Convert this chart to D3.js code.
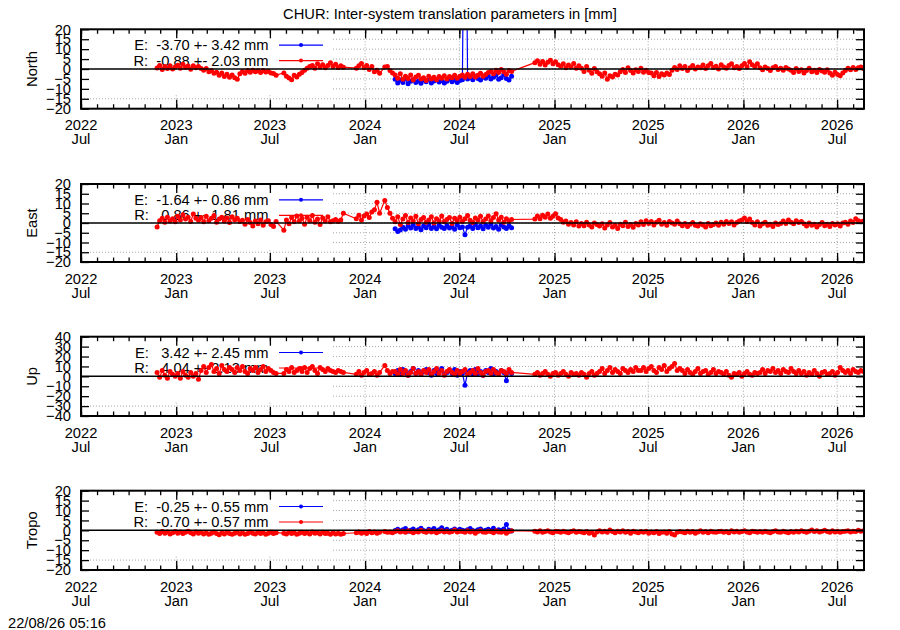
<!DOCTYPE html>
<html>
<head>
<meta charset="utf-8">
<script src="https://cdn.jsdelivr.net/npm/d3@7/dist/d3.min.js"></script>
<style>
    body { margin: 0; background: #fff; }
    svg { font-family: "Liberation Sans", Arial, sans-serif; }
</style>
</head>
<body>
<div id="chart"></div>
<script>
// ---- data (one value per 5 days, null = no solution) ----
const title = "CHUR: Inter-system translation parameters in [mm]";
const stamp = "22/08/26 05:16";
const panelNames = ["North", "East", "Up", "Tropo"];
const yLimits = [20, 20, 40, 20];
const yStepSizes = [5, 5, 10, 5];
const legendE = ["E:  -3.70 +- 3.42 mm", "E:  -1.64 +- 0.86 mm", "E:   3.42 +- 2.45 mm", "E:  -0.25 +- 0.55 mm"];
const legendR = ["R:  -0.88 +- 2.03 mm", "R:   0.86 +- 1.81 mm", "R:   4.04 +- 2.13 mm", "R:  -0.70 +- 0.57 mm"];
const yearLabels = ["2022", "2023", "2023", "2024", "2024", "2025", "2025", "2026", "2026"];
const monthLabels = ["Jul", "Jan", "Jul", "Jan", "Jul", "Jan", "Jul", "Jan", "Jul"];

const axisStart = "2022-07-01";
const axisEnd = "2026-08-22";
const rStart = "2022-11-25";
const eStart = "2024-02-28";
const stepDays = 5;

const northR = [
    0.5, 1.8, -0.3, 1.2, 0.2, 1.6, 0.0, 1.0,
    1.9, 0.4, 2.4, 0.8, 1.5, -0.1, 1.7, 0.6, 1.2,
    0.3, -0.6, 0.2, -1.4, -0.8, -2.1,
    -1.6, -3.2, -2.0, -3.8, -2.6, -4.1, -3.0, -4.4, -5.2,
    -2.4, -1.3, -2.2, -0.8, -1.6, -0.6, -1.4, -0.9, -1.8, -0.7, -1.5, -1.1, -2.0,
    -2.3, -3.1, null, null,
    -2.0, -3.6, -4.5, -5.4, -3.2, -4.0, -2.6,
    -1.8, -0.6, 0.4, 1.2,
    1.8, 0.4, 2.6, 1.0, 2.2, 0.6, 1.8, 3.2, 1.2, 2.4, 0.8, 1.6, 0.9,
    null, null, null, null,
    0.4, 1.6, 2.8, 0.6, 1.8, -0.2, 1.2, -1.4, -0.6, -2.2,
    null, 1.0, 1.3, -0.8, -2.0,
    -3.0, -4.6, -2.4, -5.2, -3.6, -4.8, -3.0, -5.6, -4.0, -3.2, -5.0,
    -4.4, -5.8, -3.6, -5.0, -4.2, -5.4, -3.8, -4.6, -3.4, -5.0, -3.8, -4.4, -3.2, -4.6, -3.6,
    -3.0, -4.2, -2.6, -3.8, -2.4, -4.0, -3.2, -2.2, -3.6, -2.8, -1.8,
    -1.2, -2.4, -0.6, -1.8, -0.2, -1.4, -2.6, -0.8, -1.2,
    null, null, null, null, null, null, null, null,
    3.2, 4.2, 2.4, 3.8, 2.0, 3.4, 4.4, 2.6, 3.6, 2.2,
    1.4, 2.6, 0.6, 2.0, 1.0, 2.8, 0.4, 1.6,
    0.4, -1.2, 1.2, -0.6, -2.2, 0.2, -1.4,
    -2.4, -3.6, -2.0, -5.2, -3.4, -4.0, -2.6, -3.0,
    -1.4, -0.2, -1.8, 0.6, -0.8, -2.0, -0.4, -1.2, 0.4, -1.6, -0.6, -1.8,
    -2.0, -3.4, -1.8, -3.8, -2.4, -3.0, -2.0, -2.8,
    -0.6, 0.8, -0.2, 1.6, 0.2, 1.2, -0.8, 0.6, 1.8, 0.0, 1.0,
    0.6, 2.0, 0.2, 1.6, 2.8, 0.8, 1.4, 0.0, 2.2, 1.0, 0.4, 1.8, 2.6, 0.6, 1.2, 0.2,
    1.6, 2.8, 1.0, 3.6, 2.2, 1.2, 2.6,
    0.6, -0.4, 1.0, 0.2, -0.8, 0.6, 1.2, -0.2, 0.4, -0.6, 0.8, 0.0,
    -0.6, -1.8, 0.2, -1.2, -0.4, -2.0, -0.8, 0.4, -1.4, -0.6, -1.8, -0.2, -1.0, -1.6, -0.4,
    -2.0, -3.2, -1.6, -2.8, -3.4, -2.0,
    -0.8, 0.4, -0.4, 0.8, -0.2, 0.6, 1.0, 0.2
];
const northE = [
    -5.2, -7.0, -5.6, -6.8, -5.0, -7.4, -6.2, -5.4, -6.8, -6.0,
    -7.2, -5.6, -6.4, -5.2, -7.0, -6.0, -5.4, -6.6, -5.8, -7.0,
    -6.2, -5.0, -6.4, -5.6, -6.8, -5.8, -5.4, 150, -5.0, -4.2,
    -5.4, -3.6, -4.8, -5.6, -4.0, -4.6, -3.4, -5.0, -4.2, -3.0,
    -5.2, -4.4, -2.8, -4.8, -5.6, -3.6
];

const eastR = [
    -2.0, 1.2, 2.4, 0.4, 3.0, 1.0, 2.2, 0.6,
    3.4, 1.6, 4.2, 2.0, 3.0, 0.8, 4.6, 2.4, 1.4,
    2.8, 0.6, 3.4, 1.2, 2.4, 3.8, 0.4, 2.0, 3.0, 1.0, 2.6, 0.2, 3.2, 1.6, 2.4, 0.8,
    1.4, -0.6, 1.8, 0.2, -1.6, 1.0, -0.4, 1.6, -1.2, 0.6, 1.2, -0.8,
    -1.8, 0.8, null, null,
    -3.7, 1.6, -0.4, 2.8, 0.6, 3.6, 1.0,
    2.4, -0.6, 3.0, 1.2, 3.8, 0.4, 2.0, -0.8, 2.6, 1.0, 3.2, 0.6,
    1.2, 1.8, 0.8, 1.6, 5.0,
    null, null, null, null,
    2.2, 4.0, 1.6, 3.6, 4.6, 2.8, 5.6, 6.8, 10.6, 5.0,
    null, 11.6, 8.0, 5.0, 2.4,
    0.6, 3.2, -0.8, 2.0, 3.8, 0.2, 2.6, 1.0, 3.4, -0.4, 1.8,
    2.8, 0.4, 1.6, 3.2, 0.0, 2.2, 1.0, 3.6, 0.6, 1.8, 2.8, -0.2, 2.4, 1.2, 3.0,
    0.8, 2.2, 3.8, 1.4, 0.2, 2.6, 1.6, 3.4, 0.6, 2.0, 3.6,
    1.2, 2.8, 4.8, 1.6, 3.0, 0.4, 2.2, 1.0, 1.8,
    null, null, null, null, null, null, null, null,
    2.0, 3.6, 2.2, 4.0, 3.0, 4.6, 2.4, 3.4, 4.8, 2.6,
    1.8, 0.4, 1.0, -0.6, 0.2, -1.0, 0.6, -1.6,
    -0.2, -1.4, 0.4, -1.0, -2.0, 0.0, -0.8,
    -1.6, -0.4, -2.6, -1.0, 0.2, -2.0, -1.2, -2.8, -0.6, -1.4, 0.4, -1.8, -0.8, -2.2, -0.2, -1.0,
    0.6, -0.8, 1.2, -0.2, 0.8, -1.0, 0.4, 1.4, -0.6, 0.2, -1.2, 0.8, 0.0, -0.6, 1.0, -0.4,
    -1.4, -0.2, -1.8, -0.6, 0.2, -1.2, -1.6, -0.4, -1.0, -2.0, -0.2, -1.4, -0.8, 0.0, -1.2,
    0.4, -0.6, 0.8, -0.2, 0.6, -1.0, 0.2, 1.0,
    1.6, 2.6, 0.8, 2.0,
    0.2, -1.0, 0.6, -1.6, -0.4, 0.4, -1.2, -0.6, -1.8, 0.0, -0.8, -0.2,
    1.0, -0.2, 1.6, 0.4, -0.4, 1.2, 0.2, 0.8,
    -0.4, -1.6, 0.0, -1.2, -0.6, -2.0, -0.8, 0.2, -1.4, -0.6, -1.8, -0.2, -1.0, -0.4, -1.6, 0.0,
    0.4, -0.6, 1.0, 0.2, 2.2, 1.2, 0.6, 1.0
];
const eastE = [
    -3.0, -4.4, -3.6, -2.2, -3.2, -1.4, -2.6, -1.0, -2.8, -2.0,
    -3.4, -1.6, -2.4, -0.8, -2.8, -1.8, -3.0, -1.2, -2.2, -2.8,
    -1.4, -2.6, -1.8, -3.2, -1.0, -2.4, -2.0, -6.0, -2.2, -1.6,
    -2.8, -0.8, -2.4, -1.6, -3.0, -1.2, -2.2, -0.6, -2.6, -1.8,
    -3.2, -1.0, -2.0, -2.8, -1.4, -2.4
];

const upR = [
    4, -1, 6, 1, -2, 5, 2, 0,
    3, -2, 5, 1, -1, 4, 0, 3, -3,
    6, 10, 4, 9, 12, 5, 8, 3, 11, 7, 5, 9,
    7, 4, 9, 6, 10, 5, 3, 8, 6, 9, 4, 7, 10, 5, 8, 6,
    4, 3, null, null,
    3, 7, 5, 9, 4, 6, 8,
    5, 9, 4, 8, 10, 6, 3, 9, 7, 5, 8, 6,
    5, 4, 6, 5, 4,
    null, null, null, null,
    2, 5, 1, 4, 6, 2, 3, 5, 1, 4,
    null, 11, 6, 3, 5,
    5, 2, 7, 3, 6, 1, 4, 8, 3, 5, 2,
    6, 4, 7, 2, 5, 8, 3, 6, 1, 5, 7, 4, 2, 6, 3,
    5, 7, 2, 4, 6, 3, 8, 4, 1, 5, 6,
    3, 7, 4, 2, 6, 5, 3, 7, 4,
    null, null, null, null, null, null, null, null,
    2, 4, 1, 3, 5, 2, 0, 3, 4, 1,
    3, 5, 2, 0, 4, 2, 3, 1,
    4, 2, -1, 3, 5, 1, 3,
    5, 8, 3, 6, 9, 4, 7, 5, 3, 8, 6, 4, 7, 5, 9, 6,
    6, 9, 5, 8, 10, 6, 4, 9, 7, 11, 5, 8, 10, 13, 6, 8,
    6, 3, 7, 4, 2, 5, 8, 3, 5, 6, 2, 4, 7, 3, 5,
    4, 2, 5, 1, -1, 3, 2, 4, 0, 3, 5, 2, 1, 4, 3,
    4, 7, 3, 6, 5, 8, 4, 6, 3, 7, 5, 4, 8, 5, 3, 6,
    3, 5, 1, 4, 2, 6, 3, 0, 4, 5, 2, 3, 5, 1, 4, 9, 6,
    4, 6, 3, 7, 5, 4, 6, 5
];
const upE = [
    3, 6, 2, 7, 4, 1, 5, 8, 3, 6,
    2, 5, 7, 4, 1, 6, 3, 5, 8, 2,
    4, 6, 3, 7, 1, 5, 3, -9, 4, 6,
    2, 7, 3, 5, 1, 6, 4, 8, 2, 5,
    3, 6, 4, -4.5, 5, 3
];

const tropoR = [
    -1.0, -1.6, -0.6, -1.4, -0.8, -1.8, -1.2, -0.6,
    -1.4, -0.8, -1.6, -1.0, -0.4, -1.2, -1.8, -0.8, -1.4,
    -1.0, -1.8, -1.2, -2.0, -1.4, -0.8, -1.6, -2.2, -1.2, -1.8, -1.0, -1.6,
    -2.0, -1.4, -1.0, -1.8, -1.2, -2.0, -1.6, -0.8, -1.4, -1.8, -1.0, -1.6, -1.2, -2.0, -1.4, -1.0,
    -1.6, -1.2, null, null,
    -1.4, -1.8, -1.0, -1.6, -1.2, -2.0, -1.4,
    -1.0, -1.6, -1.2, -1.8, -0.8, -1.4, -1.2, -1.8, -1.0, -1.6, -1.4, -2.0,
    -1.2, -1.8, -1.4, -2.0, -1.6,
    null, null, null, null,
    -1.2, -0.8, -1.4, -1.0, -1.6, -0.6, -1.2, -0.8, -1.4, -1.0,
    null, -0.6, -1.0, -0.8, -1.2,
    -0.6, -0.2, -0.8, -0.4, -1.0, -0.2, -0.6, -1.2, -0.4, -0.8, 0.0,
    -0.6, -1.0, -0.2, -0.8, -0.4, -1.2, -0.6, -0.2, -0.8, -0.4, -1.0, -0.6, 0.2, -0.8, -0.4,
    -0.6, -1.0, -0.2, -0.8, -0.4, -1.4, -0.6, -0.2, -0.8, -1.0, -0.4,
    -0.6, -1.2, -0.2, -0.8, -1.0, -0.4, -1.4, -0.6, -0.2,
    null, null, null, null, null, null, null, null,
    -0.4, -0.8, -0.2, -1.0, -0.6, -0.2, -0.8, -1.2, -0.4, -0.6,
    -1.0, -0.4, -0.8, -1.2, -0.6, -0.2, -1.0, -0.6,
    -0.8, -1.2, -0.6, -1.4, -1.0, -2.4, -0.8,
    -0.2, -0.8, -0.4, -1.0, 0.2, -0.6, -1.2, -0.4, -0.8, -0.2, -1.0, -0.6, -1.4, -0.4, -0.8, -1.2,
    -0.6, -1.0, -0.4, -1.4, -0.8, -1.2, -0.6, -1.6, -1.0, -0.8, -1.4, -0.6, -1.8, -2.4, -1.0, -0.6,
    -0.8, -1.2, -0.4, -1.0, -0.6, -1.4, -0.8, -0.2, -1.0, -0.6, -1.2, -0.4, -0.8, -1.0, -0.6,
    -0.4, -1.0, -0.6, -1.2, -0.2, -0.8, -0.4, -1.0, -0.6, -0.2, -0.8, -1.2, -0.4, -0.6, -1.0,
    -0.6, -1.0, -0.4, -0.8, -1.2, -0.6, -0.2, -0.8, -1.0, -0.4, -0.8, -1.2, -0.6, -1.0, -0.4, -0.8,
    -0.2, -0.6, -1.0, -0.4, 0.2, -0.6, -0.2, -0.8, -0.4, 0.0, -0.6, -1.0, -0.2, -0.8, -0.4, -1.0, -0.6,
    -0.4, -0.2, -0.8, -0.4, -0.6, 0.0, -0.4, -0.2
];
const tropoE = [
    -0.1, 0.5, -0.3, 0.3, 0.9, -0.5, 0.1, 0.7, -0.3, 0.3,
    1.1, -0.1, -0.7, 0.5, 0.1, 0.9, -0.3, 0.3, 1.3, -0.1,
    0.5, -0.5, 0.1, 0.7, -0.1, 0.5, 0.1, -0.3, 0.3, 0.9,
    -0.1, -0.5, 0.3, 0.7, -0.3, 0.1, 0.5, -0.1, 1.1, -0.3,
    0.3, -0.1, 0.7, 2.9, 0.1, -0.3
];

const seriesR = [northR, eastR, upR, tropoR];
const seriesE = [northE, eastE, upE, tropoE];

// ---- layout ----
const Chart = {
    width: 900,
    height: 630,
    left: 81,
    right: 864,
    keyRight: 331,
    tops: [29.3, 184, 336.7, 490.7],
    heights: [79.4, 78, 79.3, 79.3],
    colorE: "#0000ff",
    colorR: "#ff0000",
    fontSize: 14.7,
    svg: {},
    x: {},
    parse: d3.utcParse("%Y-%m-%d"),

    load: function() {
        this.svg = d3.select("#chart")
            .append("svg")
            .attr("width", this.width)
            .attr("height", this.height)
            .attr("font-size", this.fontSize);

        this.x = d3.scaleUtc()
            .domain([this.parse(axisStart), this.parse(axisEnd)])
            .range([this.left, this.right]);

        this.svg.append("text")
            .attr("x", 450)
            .attr("y", 18.5)
            .attr("text-anchor", "middle")
            .text(title);

        panelNames.forEach((name, i) => this.drawPanel(i));

        this.svg.append("text")
            .attr("x", 8)
            .attr("y", 628)
            .text(stamp);
    },

    toPoints: function(start, values) {
        const t0 = this.parse(start);
        return values
            .map((v, i) => ({date: d3.utcDay.offset(t0, i * stepDays), value: v}))
            .filter(d => d.value !== null);
    },

    drawPanel: function(p) {
        const top = this.tops[p];
        const h = this.heights[p];
        const bottom = top + h;
        const lim = yLimits[p];
        const x = this.x;
        const y = d3.scaleLinear().domain([-lim, lim]).range([bottom, top]);
        const yTicks = d3.range(-lim, lim + 0.001, yStepSizes[p]);
        const majors = d3.utcMonth.every(6).range(x.domain()[0], x.domain()[1]);
        const minors = d3.utcMonth.range(x.domain()[0], x.domain()[1]);

        const g = this.svg.append("g");

        g.append("clipPath")
            .attr("id", "clip" + p)
            .append("rect")
            .attr("x", this.left)
            .attr("y", top)
            .attr("width", this.right - this.left)
            .attr("height", h);

        // grid
        const grid = g.append("g")
            .attr("stroke", "#a8a8a8")
            .attr("stroke-width", 1)
            .attr("stroke-dasharray", "1,2");

        grid.selectAll("line.h")
            .data(yTicks.filter(d => d > -lim && d < lim))
            .join("line")
            .attr("x1", this.left)
            .attr("x2", this.right)
            .attr("y1", d => y(d))
            .attr("y2", d => y(d));

        grid.selectAll("line.v")
            .data(majors.slice(1))
            .join("line")
            .attr("x1", d => x(d))
            .attr("x2", d => x(d))
            .attr("y1", top)
            .attr("y2", bottom);

        // opaque key box
        g.append("rect")
            .attr("x", this.left + 1)
            .attr("y", top + 1)
            .attr("width", this.keyRight - this.left - 1)
            .attr("height", h * 0.81)
            .attr("fill", "#fff");

        // key
        const key = g.append("g");
        [[legendE[p], this.colorE, 15.8], [legendR[p], this.colorR, 31.3]].forEach(([label, color, dy]) => {
            const ky = top + dy;
            key.append("text")
                .attr("x", 268.5)
                .attr("y", ky + 5)
                .attr("text-anchor", "end")
                .attr("xml:space", "preserve")
                .style("white-space", "pre")
                .text(label);
            key.append("line")
                .attr("x1", 279)
                .attr("x2", 323)
                .attr("y1", ky)
                .attr("y2", ky)
                .attr("stroke", color)
                .attr("stroke-width", 1.2);
            key.append("circle")
                .attr("cx", 301)
                .attr("cy", ky)
                .attr("r", 2)
                .attr("fill", color);
        });

        // data
        const data = g.append("g").attr("clip-path", `url(#clip${p})`);
        const line = d3.line().x(d => x(d.date)).y(d => y(d.value));

        [[this.toPoints(eStart, seriesE[p]), this.colorE], [this.toPoints(rStart, seriesR[p]), this.colorR]].forEach(([pts, color]) => {
            data.append("path")
                .datum(pts)
                .attr("fill", "none")
                .attr("stroke", color)
                .attr("stroke-width", 1.2)
                .attr("d", line);
            data.append("g")
                .selectAll("circle")
                .data(pts)
                .join("circle")
                .attr("cx", d => x(d.date))
                .attr("cy", d => y(d.value))
                .attr("r", 2.5)
                .attr("fill", color);
        });

        // zero axis
        g.append("line")
            .attr("x1", this.left)
            .attr("x2", this.right)
            .attr("y1", y(0))
            .attr("y2", y(0))
            .attr("stroke", "#000")
            .attr("stroke-width", 1.5);

        // ticks
        const styleAxis = sel => {
            sel.attr("font-size", null).attr("font-family", null);
            sel.select(".domain").remove();
            sel.selectAll(".tick line").attr("stroke-width", 1.3);
        };

        g.append("g")
            .attr("transform", `translate(0,${bottom})`)
            .call(d3.axisBottom(x).tickValues(minors).tickSize(-4.5).tickFormat(""))
            .call(styleAxis);
        g.append("g")
            .attr("transform", `translate(0,${bottom})`)
            .call(d3.axisBottom(x).tickValues(majors).tickSize(-9).tickFormat(""))
            .call(styleAxis);
        g.append("g")
            .attr("transform", `translate(0,${top})`)
            .call(d3.axisTop(x).tickValues(minors).tickSize(-4.5).tickFormat(""))
            .call(styleAxis);
        g.append("g")
            .attr("transform", `translate(0,${top})`)
            .call(d3.axisTop(x).tickValues(majors).tickSize(-9).tickFormat(""))
            .call(styleAxis);
        g.append("g")
            .attr("transform", `translate(${this.left},0)`)
            .call(d3.axisLeft(y).tickValues(yTicks).tickSize(-8).tickPadding(10))
            .call(styleAxis)
            .selectAll("text").attr("fill", "#000");
        g.append("g")
            .attr("transform", `translate(${this.right},0)`)
            .call(d3.axisRight(y).tickValues(yTicks).tickSize(-8).tickFormat(""))
            .call(styleAxis);

        // x labels
        const lab = g.append("g").attr("text-anchor", "middle");
        lab.selectAll("text.year")
            .data(majors)
            .join("text")
            .attr("x", d => x(d))
            .attr("y", bottom + 21.5)
            .text((d, i) => yearLabels[i]);
        lab.selectAll("text.month")
            .data(majors)
            .join("text")
            .attr("x", d => x(d))
            .attr("y", bottom + 35.5)
            .text((d, i) => monthLabels[i]);

        // border
        g.append("rect")
            .attr("x", this.left)
            .attr("y", top)
            .attr("width", this.right - this.left)
            .attr("height", h)
            .attr("fill", "none")
            .attr("stroke", "#000")
            .attr("stroke-width", 2);

        // y label
        g.append("text")
            .attr("transform", `translate(37.3,${top + h / 2}) rotate(-90)`)
            .attr("text-anchor", "middle")
            .text(panelNames[p]);
    }
};

Chart.load();
</script>
</body>
</html>
